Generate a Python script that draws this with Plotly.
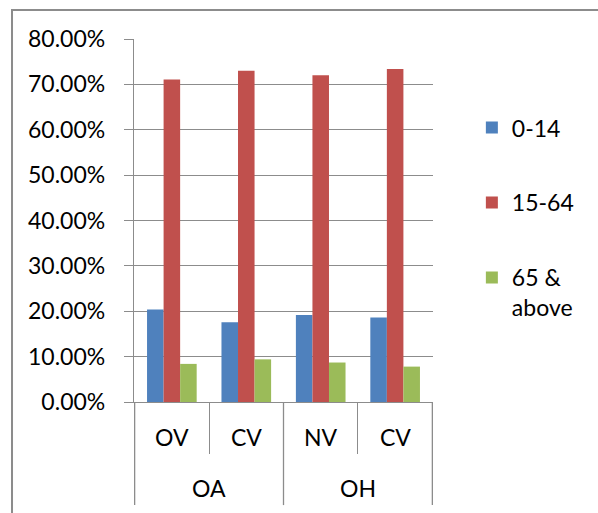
import plotly.graph_objects as go

# Category levels (outer group, inner category)
groups = ["OA", "OA", "OH", "OH"]
cats = ["OV", "CV", "NV", "CV"]

# Share of population by age band
age_0_14 = [0.204, 0.176, 0.192, 0.186]
age_15_64 = [0.711, 0.730, 0.720, 0.734]
age_65_up = [0.084, 0.094, 0.087, 0.078]

series_names = ["0-14", "15-64", "65 &<br>above"]
series_colors = ["#4F81BD", "#C0504D", "#9BBB59"]
series_values = [age_0_14, age_15_64, age_65_up]

FONT = "Lato"
FSIZE = 23
GRID = "#8C8C8C"

# unique keys keep the category order and allow the repeated "CV" label
keys = [f"{g}|{c}" for g, c in zip(groups, cats)]

fig = go.Figure()
for i, (name, color, vals) in enumerate(zip(series_names, series_colors, series_values)):
    fig.add_trace(go.Bar(
        x=keys, y=vals, name=name,
        marker=dict(color=color, line=dict(width=0)),
        legendgroup=f"g{i}",
    ))

fig.update_layout(
    width=598, height=513,
    margin=dict(l=134, r=165, t=39, b=111),
    paper_bgcolor="white", plot_bgcolor="white",
    barmode="group", bargap=0.333, bargroupgap=0,
    font=dict(family=FONT, size=FSIZE, color="black"),
    legend=dict(
        x=1.13, xanchor="left", y=0.815, yanchor="top",
        traceorder="grouped", tracegroupgap=42, valign="top",
        font=dict(family=FONT, size=FSIZE, color="black"),
        itemwidth=30,
    ),
    showlegend=True,
)

fig.update_yaxes(
    range=[0, 0.8], dtick=0.1, tickformat=".2%",
    showgrid=True, gridcolor=GRID, gridwidth=1.3,
    showline=True, linecolor=GRID, linewidth=1.3,
    ticks="outside", ticklen=9, tickcolor=GRID, tickwidth=1.3,
    zeroline=False, ticklabelstandoff=14,
)

fig.update_xaxes(
    type="category", categoryorder="array", categoryarray=keys,
    showline=True, linecolor=GRID, linewidth=1.3,
    ticks="outside", ticklen=51, tickcolor=GRID, tickwidth=1.3,
    tickson="boundaries", showticklabels=False, showgrid=False,
)

# inner category labels
for k, c in zip(keys, cats):
    fig.add_annotation(
        x=k, xref="x", y=-0.097, yref="paper", text=c, showarrow=False,
        xanchor="center", yanchor="middle",
        font=dict(family=FONT, size=FSIZE, color="black"),
    )

# outer group labels and dividers
outer = []
for i, g in enumerate(groups):
    if not outer or outer[-1][0] != g:
        outer.append([g, i, i])
    else:
        outer[-1][2] = i
for g, start, end in outer:
    fig.add_annotation(
        x=(start + end) / 2, xref="x", y=-0.237, yref="paper", text=g,
        showarrow=False, xanchor="center", yanchor="middle",
        font=dict(family=FONT, size=FSIZE, color="black"),
    )
bounds = sorted({o[1] - 0.5 for o in outer} | {o[2] + 0.5 for o in outer})
for b in bounds:
    fig.add_shape(
        type="line", xref="x", yref="paper", x0=b, x1=b, y0=0, y1=-0.284,
        line=dict(color=GRID, width=1.3),
    )

# outer chart-area frame (left and top edges visible)
fig.add_shape(
    type="rect", xref="paper", yref="paper",
    x0=-0.408, x1=1.7, y0=-0.6, y1=1.08,
    line=dict(color="#8C8C8C", width=2), fillcolor="rgba(0,0,0,0)",
    layer="below",
)

fig.write_html("out.html")
